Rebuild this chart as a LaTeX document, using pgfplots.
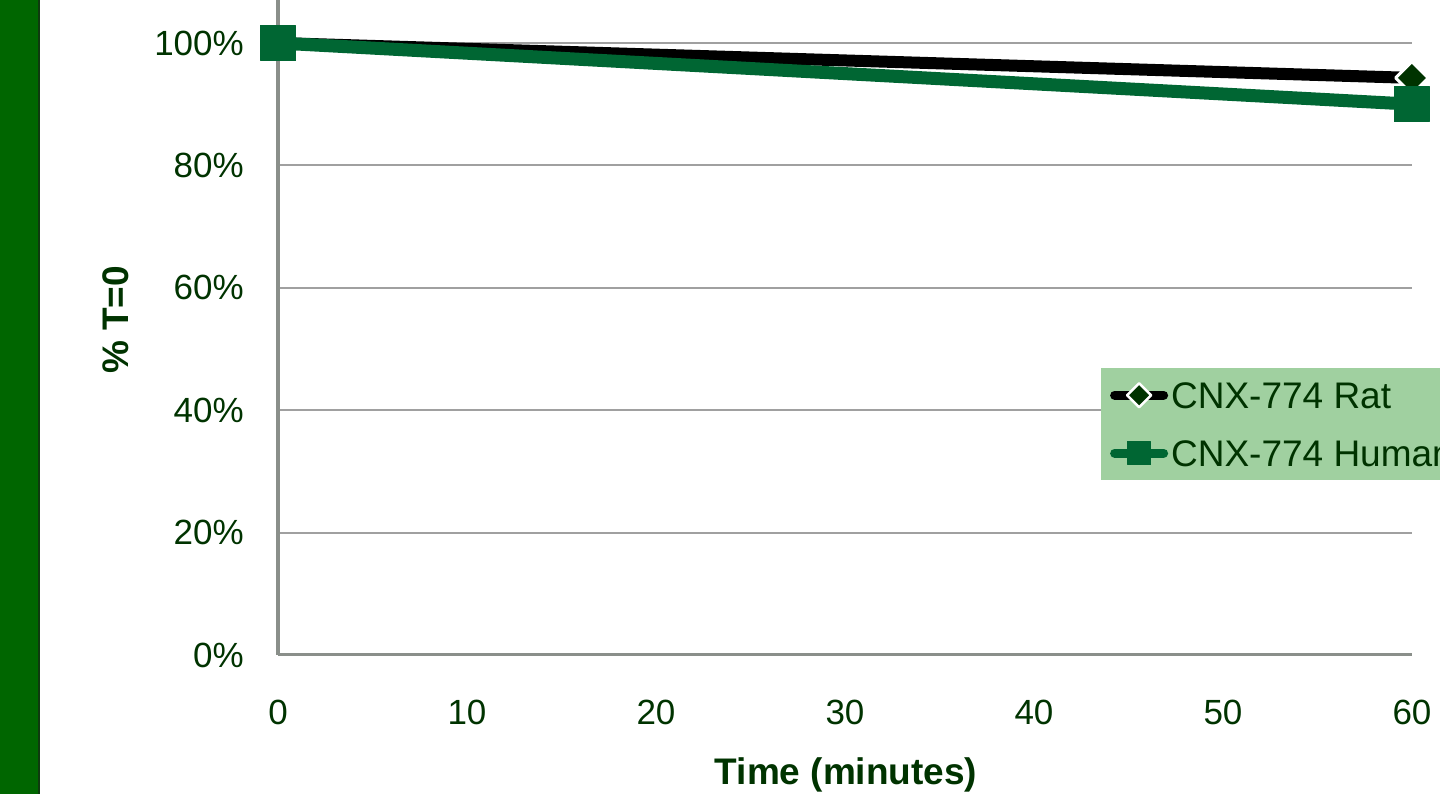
\documentclass[border=0pt]{standalone}
\usepackage{pgfplots}
\pgfplotsset{compat=1.18}
\usepackage{fontspec}
\setmainfont{Liberation Sans}

\definecolor{txtgreen}{HTML}{003300}
\definecolor{bargreen}{HTML}{006600}
\definecolor{baredge}{HTML}{0F3A0F}
\definecolor{humangreen}{HTML}{006633}
\definecolor{markgreen}{HTML}{003300}
\definecolor{legfill}{HTML}{A0D0A0}
\definecolor{gridgray}{HTML}{A0A0A0}
\definecolor{axisgray}{HTML}{8A8F8A}

\begin{document}
\begin{tikzpicture}
\useasboundingbox (0,0) rectangle (1440pt,794pt);
\begin{scope}
\clip (0,0) rectangle (1440pt,794pt);
% slide side band
\fill[bargreen] (0,0) rectangle (38pt,794pt);
\fill[baredge] (38pt,0) rectangle (40pt,794pt);
\begin{axis}[
  at={(278pt,139pt)}, anchor=south west,
  scale only axis, width=1134pt, height=655pt,
  xmin=0, xmax=60, ymin=0, ymax=1.0703,
  clip=false,
  axis x line=bottom, axis y line=left,
  x axis line style={-, draw=axisgray, line width=3pt},
  y axis line style={-, draw=axisgray, line width=4pt},
  ymajorgrids, grid style={draw=gridgray, line width=2pt},
  major tick length=0pt,
  xtick={0,10,20,30,40,50,60},
  xticklabels={0,10,20,30,40,50,60},
  ytick={0,0.2,0.4,0.6,0.8,1.0},
  yticklabels={0\%,20\%,40\%,60\%,80\%,100\%},
  tick label style={font=\fontsize{35}{42}\selectfont, text=txtgreen, inner sep=0pt},
  yticklabel style={anchor=east, xshift=-34pt},
  xticklabel style={anchor=north, yshift=-45pt},
  xlabel={Time (minutes)},
  ylabel={\% T=0},
  label style={font=\bfseries\fontsize{37}{44}\selectfont, text=txtgreen, inner sep=0pt},
  xlabel style={at={(axis description cs:0.5009,0)}, anchor=north, yshift=-102pt},
  ylabel style={at={(axis description cs:-0.1429,0.5115)}, anchor=center},
  legend style={at={(rel axis cs:0.7257,0.4382)}, anchor=north west,
    fill=legfill, draw=none, inner xsep=9pt, inner ysep=11pt,
    font=\fontsize{37}{44}\selectfont, text=txtgreen,
    cells={anchor=west}, row sep=26pt, column sep=3pt,
    nodes={inner sep=0pt, text height=29pt, text depth=3pt}},
]
\addplot[black, line width=12pt, line cap=round, line join=round,
  mark=square*, mark size=11.5pt,
  mark options={rotate=45, fill=markgreen, draw=white, line width=3pt},
  legend image code/.code={
    \draw[black, line width=9pt, line cap=round] (4.5pt,0pt) -- (53.5pt,0pt);
    \draw plot[only marks, mark=square*, mark size=8.5pt,
      mark options={rotate=45, fill=markgreen, draw=white, line width=2.5pt}]
      coordinates {(29pt,0pt)};
  }]
  coordinates {(0,1.000) (60,0.943)};
\addlegendentry{CNX-774 Rat}
\addplot[humangreen, line width=13pt, line cap=round, line join=round,
  mark=square*, mark size=17.5pt,
  mark options={fill=humangreen, draw=humangreen, line width=1pt},
  legend image code/.code={
    \draw[humangreen, line width=9pt, line cap=round] (4.5pt,0pt) -- (53.5pt,0pt);
    \draw plot[only marks, mark=square*, mark size=11.5pt,
      mark options={fill=humangreen, draw=humangreen, line width=0.5pt}]
      coordinates {(29pt,0pt)};
  }]
  coordinates {(0,1.000) (60,0.900)};
\addlegendentry{CNX-774 Human}
\end{axis}
\end{scope}
\end{tikzpicture}
\end{document}
